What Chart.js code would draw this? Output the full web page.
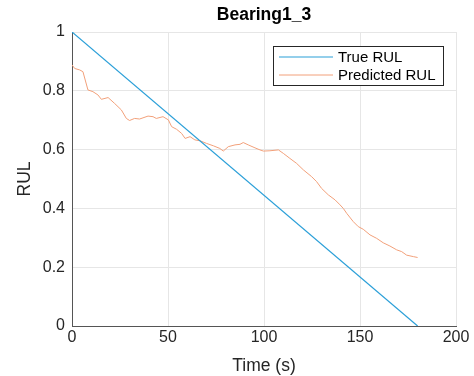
<!DOCTYPE html>
<html>
<head>
<meta charset="utf-8">
<script src="https://cdn.jsdelivr.net/npm/chart.js@4.4.1/dist/chart.umd.min.js"></script>
<style>
  body { margin: 0; background: #fff; }
  canvas { display: block; }
</style>
</head>
<body>
<canvas id="rulChart" width="474" height="376"></canvas>
<script>
// Data
const titleText = 'Bearing1_3';
const seriesNames = ['True RUL', 'Predicted RUL'];

const trueTime = [0, 180];
const trueRul = [1, 0];

const predTime = [0, 1.4, 4, 5.7, 8.3, 10.9, 13.5, 15.3, 18.8, 22.2, 25.7, 28.3, 30, 32.6, 35.2,
    39.6, 42.2, 43.9, 47.4, 50.2, 51.9, 54.5, 57.1, 58.9, 61.5, 64, 66.7, 70.1, 73.6, 77, 78.8,
    81.4, 84.9, 87.5, 89.2, 91.8, 95.3, 97.9, 99.7, 103.1, 107.5, 110.1, 113.5, 117, 120.5, 124.8,
    127.4, 130, 133.5, 137, 139.6, 141.3, 143.1, 146.5, 149.1, 151.7, 155.2, 158.7, 162.1, 165.6,
    169.1, 171.7, 174.3, 177.8, 180];
const predRul = [0.888, 0.876, 0.871, 0.865, 0.803, 0.797, 0.786, 0.771, 0.777, 0.757, 0.735, 0.706,
    0.699, 0.706, 0.704, 0.714, 0.712, 0.706, 0.712, 0.701, 0.678, 0.669, 0.655, 0.638, 0.644,
    0.633, 0.630, 0.621, 0.613, 0.604, 0.595, 0.610, 0.616, 0.618, 0.624, 0.616, 0.606, 0.599,
    0.595, 0.596, 0.599, 0.587, 0.570, 0.553, 0.531, 0.508, 0.491, 0.468, 0.446, 0.429, 0.412,
    0.400, 0.383, 0.355, 0.338, 0.329, 0.310, 0.298, 0.283, 0.272, 0.259, 0.253, 0.241, 0.236, 0.233];

const xTicks = [0, 50, 100, 150, 200];
const yTicks = [0, 0.2, 0.4, 0.6, 0.8, 1];
const xLabel = 'Time (s)';
const yLabel = 'RUL';

const FONT = '"Liberation Sans", Arial, sans-serif';
const TEXT = '#262626';

function toPoints(xs, ys) {
    return xs.map((x, i) => ({ x: x, y: ys[i] }));
}

// title centred over the plot area + MATLAB-like boxed legend
const matlabBits = {
    id: 'matlabBits',
    afterDraw(chart) {
        const ctx = chart.ctx;
        const area = chart.chartArea;
        ctx.save();
        ctx.fillStyle = '#000';
        ctx.font = 'bold 17.5px ' + FONT;
        ctx.textAlign = 'center';
        ctx.textBaseline = 'alphabetic';
        ctx.fillText(titleText, (area.left + area.right) / 2, 20);

        // legend box
        const bx = area.right - 12, by = area.top + 14;
        const w = 171, h = 40;
        ctx.fillStyle = '#fff';
        ctx.fillRect(bx - w, by, w, h);
        ctx.strokeStyle = '#262626';
        ctx.lineWidth = 1;
        ctx.strokeRect(bx - w + 0.5, by + 0.5, w - 1, h - 1);

        ctx.font = '15px ' + FONT;
        ctx.textAlign = 'left';
        ctx.textBaseline = 'middle';
        chart.data.datasets.forEach((ds, i) => {
            const ly = by + 11 + i * 18;
            ctx.strokeStyle = ds.borderColor;
            ctx.lineWidth = ds.borderWidth;
            ctx.beginPath();
            ctx.moveTo(bx - w + 6, ly);
            ctx.lineTo(bx - w + 60, ly);
            ctx.stroke();
            ctx.fillStyle = '#000';
            ctx.fillText(ds.label, bx - w + 65, ly + 1);
        });
        ctx.restore();
    }
};

new Chart(document.getElementById('rulChart'), {
    type: 'line',
    data: {
        datasets: [
            {
                label: seriesNames[0],
                data: toPoints(trueTime, trueRul),
                borderColor: '#2a9fd8',
                borderWidth: 1.2,
                pointRadius: 0,
                tension: 0
            },
            {
                label: seriesNames[1],
                data: toPoints(predTime, predRul),
                borderColor: '#f2a07a',
                borderWidth: 1,
                pointRadius: 0,
                tension: 0
            }
        ]
    },
    options: {
        responsive: false,
        animation: false,
        layout: { padding: { top: 32, right: 18, left: 0, bottom: 0 } },
        plugins: {
            legend: { display: false },
            title: { display: false },
            tooltip: { enabled: false }
        },
        scales: {
            x: {
                type: 'linear',
                min: 0,
                max: 200,
                afterBuildTicks: (s) => { s.ticks = xTicks.map(v => ({ value: v })); },
                afterFit: (s) => { s.height = 50; },
                grid: { color: '#e6e6e6', drawTicks: false },
                border: { display: true, color: '#555', width: 1 },
                ticks: { color: TEXT, font: { family: FONT, size: 16 }, padding: 2, maxRotation: 0 },
                title: { display: true, text: xLabel, color: TEXT, font: { family: FONT, size: 17.5 }, padding: { top: 0, bottom: -1 } }
            },
            y: {
                min: 0,
                max: 1,
                afterBuildTicks: (s) => { s.ticks = yTicks.map(v => ({ value: v })); },
                afterFit: (s) => { s.width = 72; },
                grid: { color: '#e6e6e6', drawTicks: false },
                border: { display: true, color: '#555', width: 1 },
                ticks: { color: TEXT, font: { family: FONT, size: 16 }, padding: 7, callback: (v) => String(v) },
                title: { display: true, text: yLabel, color: TEXT, font: { family: FONT, size: 17.5 }, padding: { top: 15, bottom: 0 } }
            }
        }
    },
    plugins: [matlabBits]
});
</script>
</body>
</html>
